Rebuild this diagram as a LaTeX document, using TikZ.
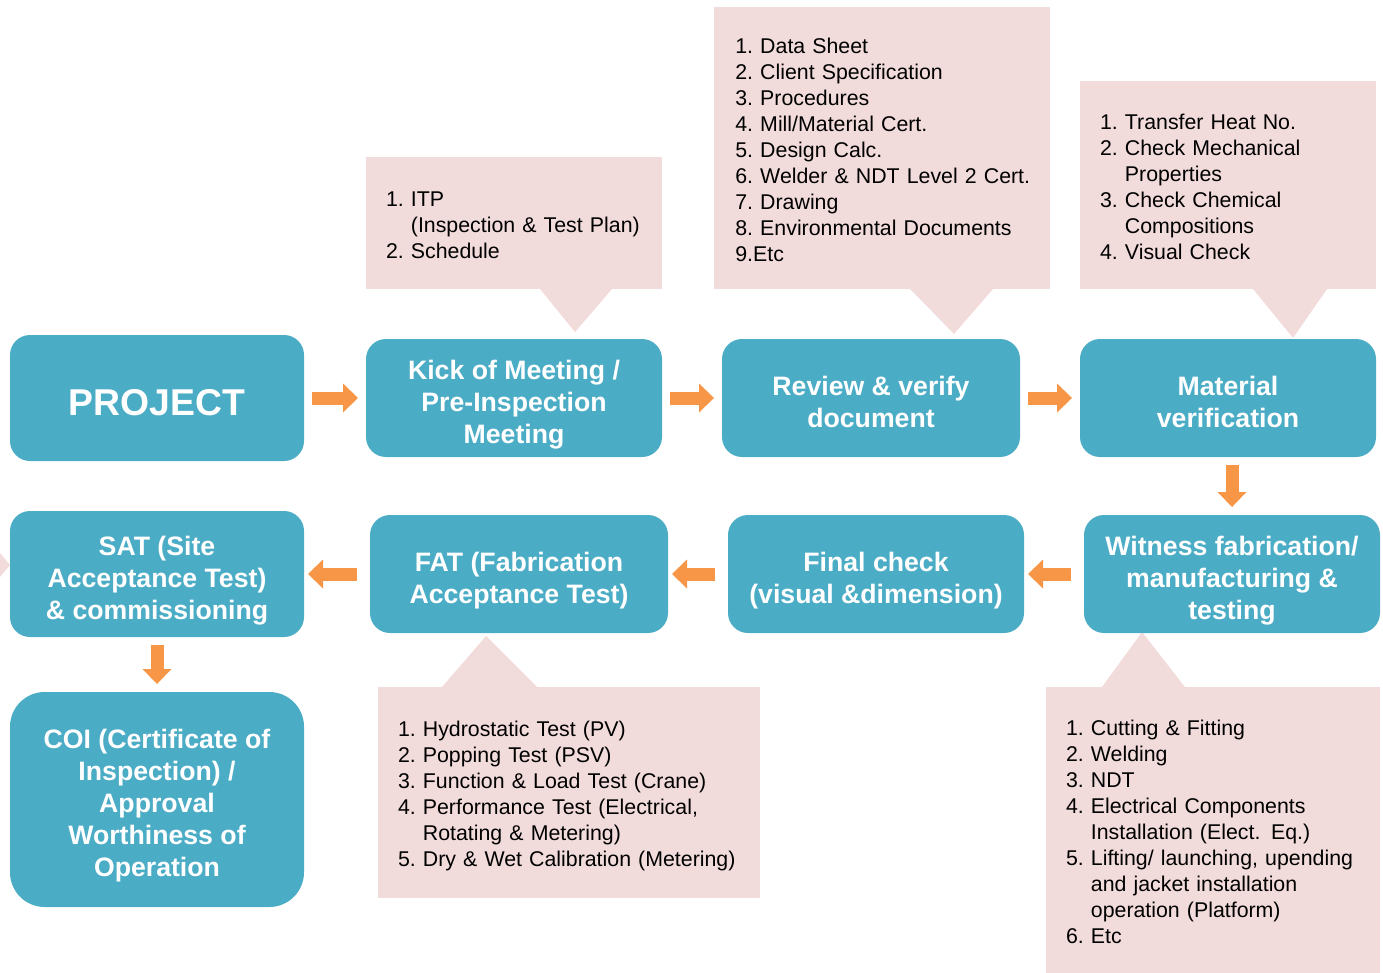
\documentclass[tikz,border=0pt]{standalone}
\usepackage{fontspec}
\setmainfont{Liberation Sans}
\usetikzlibrary{arrows.meta}
\definecolor{boxblue}{HTML}{4BACC6}
\definecolor{notepink}{HTML}{F2DCDB}
\definecolor{floworange}{HTML}{F79646}
% struts that set the text a little lower in the boxes
\newcommand{\boxtop}{\rule{0pt}{25pt}}
\newcommand{\boxbot}{\rule[-5pt]{0pt}{5pt}}
\newcommand{\notetop}{\rule{0pt}{19.6pt}}

\begin{document}
\begin{tikzpicture}[x=0.75pt,y=-0.75pt,inner sep=0pt,outer sep=0pt,
procbox/.style={fill=boxblue,rounded corners=15pt,text=white,align=center,font=\bfseries\fontsize{20}{24}\selectfont,minimum width=222pt,minimum height=88.5pt},
note/.style={fill=notepink,inner xsep=15pt,align=left,text width=#1,font=\fontsize{16}{19.5}\selectfont},
flow/.style={draw=floworange,line width=9.75pt,-{Triangle[width=21.75pt,length=11.25pt,line width=0pt]},shorten <=6pt,shorten >=6pt},
backflow/.style={flow,shorten <=10pt,shorten >=3pt}]
\useasboundingbox (0,0) rectangle (1383,973);

% notes
\draw (514,223) node[note=192pt,minimum height=99pt] (itpnote) {\begin{tabular}{@{}l@{\ }l@{}}
\notetop 1. & ITP\\
 & (Inspection \& Test Plan)\\
2. & Schedule\end{tabular}};
\draw (882,148) node[note=220pt,inner xsep=16pt,minimum height=211.5pt] (docnote) {\begin{tabular}{@{}l@{\ }l@{}}
\notetop 1. & Data Sheet\\
2. & Client Specification\\
3. & Procedures\\
4. & Mill/Material Cert.\\
5. & Design Calc.\\
6. & Welder \& NDT Level 2 Cert.\\
7. & Drawing\\
8. & Environmental Documents\\
\multicolumn{2}{@{}l}{9.Etc}\end{tabular}};
\draw (1228,185) node[note=192pt,minimum height=156pt] (matnote) {\begin{tabular}{@{}l@{\ }l@{}}
\notetop 1. & Transfer Heat No.\\
2. & Check Mechanical\\
 & Properties\\
3. & Check Chemical\\
 & Compositions\\
4. & Visual Check\end{tabular}};
\draw (569,792.5) node[note=256.5pt,minimum height=158.25pt] (fatnote) {\begin{tabular}{@{}l@{\ }l@{}}
\notetop 1. & Hydrostatic Test (PV)\\
2. & Popping Test (PSV)\\
3. & Function \& Load Test (Crane)\\
4. & Performance Test (Electrical,\\
 & Rotating \& Metering)\\
5. & Dry \& Wet Calibration (Metering)\end{tabular}};
\draw (1213,830) node[note=220.5pt,minimum height=214.5pt] (witnote) {\begin{tabular}{@{}l@{\ }l@{}}
\notetop 1. & Cutting \& Fitting\\
2. & Welding\\
3. & NDT\\
4. & Electrical Components\\
 & Installation (Elect. Eq.)\\
5. & Lifting/ launching, upending\\
 & and jacket installation\\
 & operation (Platform)\\
6. & Etc\end{tabular}};

% pointers
\fill[notepink] (540,289) -- (575,332) -- (612,289) -- cycle;
\fill[notepink] (910,289) -- (954,334) -- (993,289) -- cycle;
\fill[notepink] (1253,289) -- (1293,338) -- (1327,289) -- cycle;
\fill[notepink] (442,687) -- (486,636) -- (537,687) -- cycle;
\fill[notepink] (1102,687) -- (1142,632) -- (1185,687) -- cycle;
\fill[notepink] (0,553) -- (10,565) -- (0,577) -- cycle;

% process boxes
\draw (157,398) node[procbox,minimum width=220.5pt,minimum height=94.5pt,font=\bfseries\fontsize{28}{34}\selectfont] (proj) {\rule{0pt}{30pt}PROJECT\rule[-4pt]{0pt}{4pt}};
\draw (514,398) node[procbox] (kick) {\boxtop Kick of Meeting /\\Pre-Inspection\\Meeting\boxbot};
\draw (871,398) node[procbox,minimum width=223.5pt] (rev) {\boxtop Review \& verify\\document\boxbot};
\draw (1228,398) node[procbox] (mat) {\boxtop Material\\verification\boxbot};
\draw (1232,574) node[procbox] (wit) {\boxtop Witness fabrication/\\manufacturing \&\\testing\boxbot};
\draw (876,574) node[procbox] (fin) {\boxtop Final check\\(visual \&dimension)\boxbot};
\draw (519,574) node[procbox,minimum width=223.5pt] (fat) {\boxtop FAT (Fabrication\\Acceptance Test)\boxbot};
\draw (157,574) node[procbox,minimum width=220.5pt,minimum height=94.5pt] (sat) {\boxtop SAT (Site\\Acceptance Test)\\\& commissioning\boxbot};
\draw (157,799.5) node[procbox,minimum width=220.5pt,minimum height=161.25pt,rounded corners=26pt] (coi) {\boxtop COI (Certificate of\\Inspection) /\\Approval\\Worthiness of\\Operation\boxbot};

% flow
\draw[flow] (proj) -- (kick);
\draw[flow] (kick) -- (rev);
\draw[flow] (rev) -- (mat);
\draw[flow] (wit.north |- mat.south) -- (wit.north);
\draw[backflow] (wit) -- (fin);
\draw[backflow] (fin) -- (fat);
\draw[backflow] (fat) -- (sat);
\draw[flow] (sat) -- (coi);
\end{tikzpicture}
\end{document}
